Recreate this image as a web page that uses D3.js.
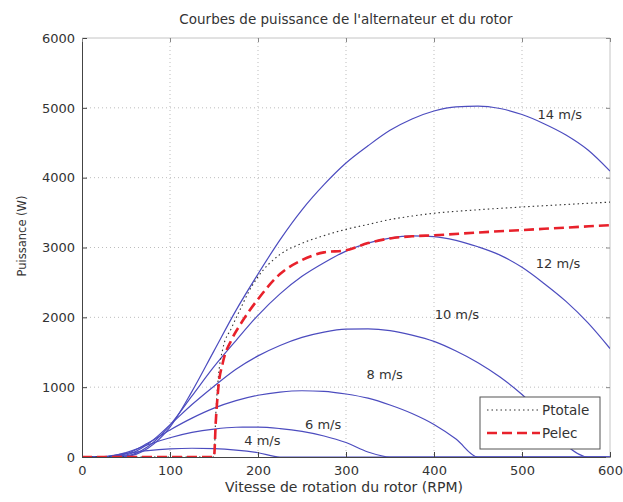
<!DOCTYPE html>
<html>
<head>
<meta charset="utf-8">
<script src="https://cdn.jsdelivr.net/npm/d3@7"></script>
<style>
  body { margin: 0; background: #fff; }
  text { font-family: "DejaVu Sans", "Liberation Sans", Arial, sans-serif; fill: #333; }
</style>
</head>
<body>
<svg id="chart" width="623" height="502"></svg>
<script>
// Rotor speed samples (RPM) shared by the wind-speed power curves
const rpm = [0, 25, 50, 75, 100, 125, 150, 175, 200, 225, 250, 275, 300,
             325, 350, 375, 400, 425, 450, 475, 500, 525, 550, 575, 600];

// Rotor power (W) for each wind speed
const p4  = [0, 6, 51, 92, 116, 125, 119, 98, 61, 0, 0, 0, 0,
             0, 0, 0, 0, 0, 0, 0, 0, 0, 0, 0, 0];
const p6  = [0, 2, 63, 176, 276, 352, 400, 426, 428, 407, 366, 301, 207,
             72, 0, 0, 0, 0, 0, 0, 0, 0, 0, 0, 0];
const p8  = [0, 0, 45, 200, 388, 557, 700, 807, 884, 930, 949, 940, 902,
             842, 745, 623, 466, 257, 0, 0, 0, 0, 0, 0, 0];
const p10 = [0, 0, 29, 187, 460, 751, 1014, 1257, 1448, 1597, 1713, 1789, 1831,
             1836, 1811, 1746, 1656, 1518, 1351, 1146, 894, 578, 175, 0, 0];
const p12 = [0, 0, 16, 149, 457, 875, 1293, 1668, 2029, 2336, 2587, 2782, 2948,
             3063, 3135, 3166, 3157, 3103, 3010, 2891, 2716, 2485, 2228, 1920, 1553];
const p14 = [0, 0, 10, 126, 428, 940, 1520, 2100, 2620, 3110, 3540, 3900, 4210,
             4456, 4678, 4841, 4955, 5015, 5025, 4990, 4904, 4773, 4611, 4396, 4094];

const windSeries = [p4, p6, p8, p10, p12, p14];
const windLabels = ["4 m/s", "6 m/s", "8 m/s", "10 m/s", "12 m/s", "14 m/s"];
// Where each wind-speed label sits, in chart units (RPM, W)
const labelRpm   = [205, 274, 344, 426, 541, 543];
const labelPower = [172, 401, 1117, 1977, 2708, 4840];

// Total and electrical power of the alternator
const ptotRpm   = [0, 150, 152, 155, 160, 170, 180, 190, 200, 225, 250, 275, 300,
                   325, 350, 375, 400, 450, 500, 550, 600];
const ptotPower = [0, 0, 600, 1150, 1550, 1850, 2120, 2380, 2580, 2900, 3060, 3170, 3260,
                   3330, 3400, 3450, 3490, 3540, 3580, 3615, 3650];
const pelecRpm   = [0, 150, 152, 155, 160, 170, 180, 200, 225, 250, 275, 300,
                    325, 350, 375, 400, 450, 500, 550, 600];
const pelecPower = [0, 0, 500, 1000, 1350, 1680, 1900, 2260, 2620, 2820, 2930, 2960,
                    3063, 3130, 3160, 3175, 3215, 3250, 3285, 3320];

const xTicks = [0, 100, 200, 300, 400, 500, 600];
const yTicks = [0, 1000, 2000, 3000, 4000, 5000, 6000];

(function draw() {
  const svg = d3.select("#chart");
  const pl = 82, pr = 610, pt = 38, pb = 457;

  const x = d3.scaleLinear().domain([0, 600]).range([pl, pr]);
  const y = d3.scaleLinear().domain([0, 6000]).range([pb, pt]);

  // Dotted grid
  const grid = svg.append("g")
    .attr("stroke", "#bdbdbd").attr("stroke-width", 1).attr("stroke-dasharray", "1,3");
  grid.selectAll("line.gx").data(xTicks.slice(1, -1)).join("line").attr("class", "gx")
    .attr("x1", d => x(d)).attr("x2", d => x(d)).attr("y1", pt).attr("y2", pb);
  grid.selectAll("line.gy").data(yTicks.slice(1, -1)).join("line").attr("class", "gy")
    .attr("x1", pl).attr("x2", pr).attr("y1", d => y(d)).attr("y2", d => y(d));

  // Box edges on top and right
  svg.append("line").attr("x1", pl).attr("x2", pr).attr("y1", pt).attr("y2", pt)
    .attr("stroke", "#c4c4c4");
  svg.append("line").attr("x1", pr).attr("x2", pr).attr("y1", pt).attr("y2", pb)
    .attr("stroke", "#c4c4c4");

  // Curves, clipped to the plotting area
  svg.append("clipPath").attr("id", "plotClip").append("rect")
    .attr("x", pl).attr("y", pt - 1).attr("width", pr - pl).attr("height", pb - pt + 1);
  const plot = svg.append("g").attr("clip-path", "url(#plotClip)");

  const windLine = d3.line().x((d, i) => x(rpm[i])).y(d => y(d)).curve(d3.curveMonotoneX);
  plot.selectAll("path.wind").data(windSeries).join("path")
    .attr("class", "wind")
    .attr("d", windLine)
    .attr("fill", "none").attr("stroke", "#4c4cbf").attr("stroke-width", 1.2);

  const pairLine = d3.line().x(d => x(d[0])).y(d => y(d[1])).curve(d3.curveMonotoneX);
  plot.append("path")
    .attr("d", pairLine(ptotRpm.map((r, i) => [r, ptotPower[i]])))
    .attr("fill", "none").attr("stroke", "#333").attr("stroke-width", 1.1)
    .attr("stroke-dasharray", "1.5,3");
  plot.append("path")
    .attr("d", pairLine(pelecRpm.map((r, i) => [r, pelecPower[i]])))
    .attr("fill", "none").attr("stroke", "#e8212b").attr("stroke-width", 2.6)
    .attr("stroke-dasharray", "10,5");

  // Axes with inward ticks
  const fmt = d3.format("d");
  const xAxis = svg.append("g").attr("transform", `translate(0,${pb})`)
    .call(d3.axisBottom(x).tickValues(xTicks).tickFormat(fmt)
          .tickSizeInner(-5).tickSizeOuter(0).tickPadding(9));
  const yAxis = svg.append("g").attr("transform", `translate(${pl},0)`)
    .call(d3.axisLeft(y).tickValues(yTicks).tickFormat(fmt)
          .tickSizeInner(-5).tickSizeOuter(0).tickPadding(7));
  svg.append("g").attr("transform", `translate(0,${pt})`)
    .call(d3.axisTop(x).tickValues(xTicks).tickFormat("").tickSizeInner(-4).tickSizeOuter(0))
    .call(g => g.select(".domain").remove())
    .selectAll("line").attr("stroke", "#888");
  svg.append("g").attr("transform", `translate(${pr},0)`)
    .call(d3.axisRight(y).tickValues(yTicks).tickFormat("").tickSizeInner(-4).tickSizeOuter(0))
    .call(g => g.select(".domain").remove())
    .selectAll("line").attr("stroke", "#888");

  [xAxis, yAxis].forEach(a => {
    a.select(".domain").attr("stroke", "#444");
    a.selectAll(".tick line").attr("stroke", "#444");
    a.selectAll(".tick text").attr("font-size", 13)
      .attr("font-family", "'DejaVu Sans', sans-serif").attr("fill", "#333");
  });

  // Wind-speed labels
  svg.selectAll("text.wlabel").data(windLabels).join("text")
    .attr("class", "wlabel")
    .attr("x", (d, i) => x(labelRpm[i]))
    .attr("y", (d, i) => y(labelPower[i]))
    .attr("text-anchor", "middle").attr("font-size", 13)
    .text(d => d);

  // Titles
  svg.append("text").attr("x", 346).attr("y", 24).attr("text-anchor", "middle")
    .attr("font-size", 13.5).text("Courbes de puissance de l'alternateur et du rotor");
  svg.append("text").attr("x", 344).attr("y", 492).attr("text-anchor", "middle")
    .attr("font-size", 14).text("Vitesse de rotation du rotor (RPM)");
  svg.append("text").attr("transform", "translate(26,236) rotate(-90)")
    .attr("text-anchor", "middle").attr("font-size", 11.5).text("Puissance (W)");

  // Legend
  const lg = svg.append("g");
  lg.append("rect").attr("x", 480).attr("y", 397).attr("width", 120).attr("height", 52)
    .attr("fill", "#fff").attr("stroke", "#555").attr("stroke-width", 1);
  lg.append("line").attr("x1", 487).attr("x2", 540).attr("y1", 410).attr("y2", 410)
    .attr("stroke", "#333").attr("stroke-width", 1.1).attr("stroke-dasharray", "1.5,3");
  lg.append("line").attr("x1", 487).attr("x2", 540).attr("y1", 433).attr("y2", 433)
    .attr("stroke", "#e8212b").attr("stroke-width", 2.6).attr("stroke-dasharray", "10,5");
  lg.append("text").attr("x", 542).attr("y", 415).attr("font-size", 13.5).text("Ptotale");
  lg.append("text").attr("x", 542).attr("y", 438).attr("font-size", 13.5).text("Pelec");
})();
</script>
</body>
</html>
